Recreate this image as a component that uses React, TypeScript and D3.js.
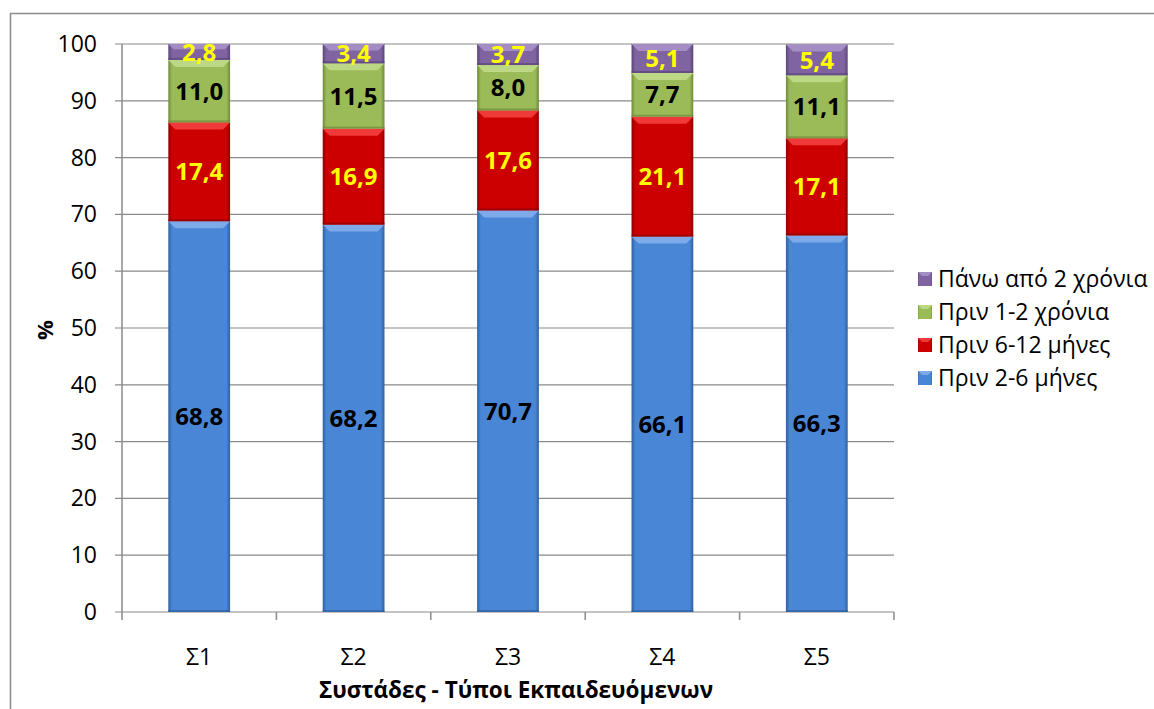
import React from "react";
import * as d3 from "d3";

const categories = ["Σ1", "Σ2", "Σ3", "Σ4", "Σ5"];
const seriesNames = ["Πριν 2-6 μήνες", "Πριν 6-12 μήνες", "Πριν 1-2 χρόνια", "Πάνω από 2 χρόνια"];
const s26 = [68.8, 68.2, 70.7, 66.1, 66.3];
const s612 = [17.4, 16.9, 17.6, 21.1, 17.1];
const s12y = [11.0, 11.5, 8.0, 7.7, 11.1];
const sOver2 = [2.8, 3.4, 3.7, 5.1, 5.4];
const yTicks = [0, 10, 20, 30, 40, 50, 60, 70, 80, 90, 100];

const seriesValues = [s26, s612, s12y, sOver2];
const colors = [
  { base: "#4a86d6", light: "#7eaaea", dark: "#2f5f9e" },
  { base: "#cc0000", light: "#f03a3a", dark: "#8e0000" },
  { base: "#9bbb59", light: "#bcd884", dark: "#6f8a3a" },
  { base: "#8064a2", light: "#a48cc4", dark: "#5a4479" },
];
const labelColors = ["#000000", "#ffff00", "#000000", "#ffff00"];

const W = 1154;
const H = 709;
const left = 122;
const right = 894;
const top = 44;
const bottom = 612;
const FONT = "'Open Sans', 'Noto Sans', sans-serif";

export default function App() {
  const x = d3.scaleBand().domain(categories).range([left, right]).paddingInner(0.6).paddingOuter(0.3);
  const y = d3.scaleLinear().domain([0, 100]).range([bottom, top]);
  const rows = categories.map((c, i) => {
    const r: any = { cat: c };
    seriesValues.forEach((s, k) => (r["k" + k] = s[i]));
    return r;
  });
  const stacked = d3.stack().keys(seriesValues.map((_, k) => "k" + k))(rows);
  const fmt = (v: number) => d3.format(".1f")(v).replace(".", ",");
  const bw = x.bandwidth();
  const step = x.step();
  const bounds = d3.range(categories.length + 1).map((i) => left + i * step);

  return (
    <div style={{ position: "fixed", left: 0, top: 0 }}>
      <svg width={W} height={H} style={{ display: "block", background: "#fff" }}>
        <defs>
          {colors.map((c, k) => (
            <linearGradient id={"side" + k} key={k} x1="0" x2="1" y1="0" y2="0">
              <stop offset="0" stopColor={c.dark} />
              <stop offset="0.06" stopColor={c.base} />
              <stop offset="0.94" stopColor={c.base} />
              <stop offset="1" stopColor={c.dark} />
            </linearGradient>
          ))}
        </defs>
        {/* chart frame */}
        <path d={`M10.5,${H} V13.5 H${W}`} fill="none" stroke="#8c8c8c" strokeWidth={1.5} />

        {/* gridlines */}
        {yTicks.map((t) => (
          <line key={t} x1={left - 7} x2={right} y1={y(t)} y2={y(t)} stroke="#8a8a8a" strokeWidth={1.2} />
        ))}
        <line x1={left} x2={left} y1={top} y2={bottom} stroke="#8a8a8a" strokeWidth={1.5} />
        {bounds.map((b, i) => (
          <line key={i} x1={b} x2={b} y1={bottom} y2={bottom + 8} stroke="#8a8a8a" strokeWidth={1.5} />
        ))}
        {yTicks.map((t) => (
          <text key={t} x={97} y={y(t)} dy="0.35em" textAnchor="end" fontFamily={FONT} fontSize={23} fill="#000">
            {t}
          </text>
        ))}

        {/* stacked bars */}
        {stacked.map((layer, k) =>
          layer.map((d, i) => {
            const x0 = x(categories[i])!;
            const y0 = y(d[1]);
            const y1 = y(d[0]);
            const h = y1 - y0;
            const bev = Math.min(7, h / 3);
            return (
              <g key={k + "-" + i}>
                <rect x={x0} y={y0} width={bw} height={h} fill={`url(#side${k})`} />
                <polygon
                  points={`${x0},${y0} ${x0 + bw},${y0} ${x0 + bw - bev},${y0 + bev} ${x0 + bev},${y0 + bev}`}
                  fill={colors[k].light}
                />
                <rect x={x0} y={y1 - 2} width={bw} height={2} fill={colors[k].dark} opacity={0.7} />
              </g>
            );
          })
        )}

        {/* value labels */}
        {stacked.map((layer, k) =>
          layer.map((d, i) => (
            <text
              key={"l" + k + "-" + i}
              x={x(categories[i])! + bw / 2}
              y={(y(d[0]) + y(d[1])) / 2}
              dy="0.36em"
              textAnchor="middle"
              fontFamily={FONT}
              fontWeight={700}
              fontSize={24}
              fill={labelColors[k]}
            >
              {fmt(seriesValues[k][i])}
            </text>
          ))
        )}

        {/* category labels */}
        {categories.map((c) => (
          <text key={c} x={x(c)! + bw / 2} y={657} dy="0.35em" textAnchor="middle" fontFamily={FONT} fontSize={23} fill="#000">
            {c}
          </text>
        ))}
        <text x={(left + right) / 2 + 8} y={690} dy="0.35em" textAnchor="middle" fontFamily={FONT} fontWeight={700} fontSize={22.5} fill="#000">
          Συστάδες - Τύποι Εκπαιδευόμενων
        </text>
        <text transform={`translate(45,${(top + bottom) / 2 + 2}) rotate(-90)`} dy="0.35em" textAnchor="middle" fontFamily={FONT} fontWeight={700} fontSize={22} fill="#000">
          %
        </text>

        {/* legend */}
        {[3, 2, 1, 0].map((k, j) => {
          const ly = 279 + j * 33;
          return (
            <g key={"lg" + k}>
              <rect x={918} y={ly - 7} width={14} height={14} fill={`url(#side${k})`} />
              <polygon points={`918,${ly - 7} 932,${ly - 7} 928,${ly - 3} 922,${ly - 3}`} fill={colors[k].light} />
              <text x={938} y={ly} dy="0.35em" fontFamily={FONT} fontSize={23} fill="#000">
                {seriesNames[k]}
              </text>
            </g>
          );
        })}
      </svg>
    </div>
  );
}
